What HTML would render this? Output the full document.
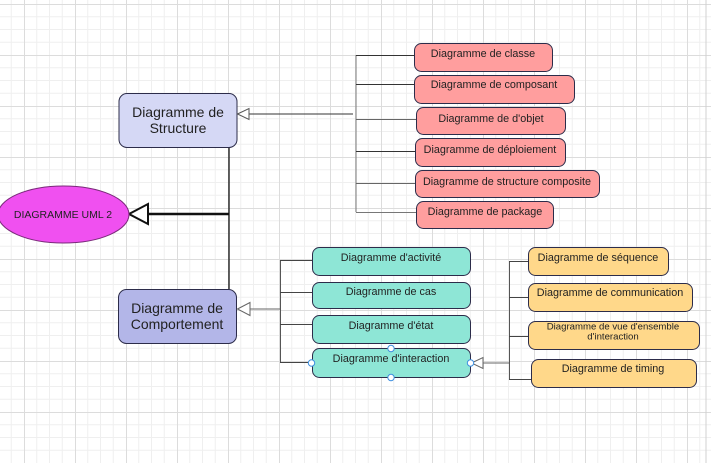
<!DOCTYPE html>
<html><head><meta charset="utf-8"><style>
html,body{margin:0;padding:0;background:#fff;}
svg{display:block;}
text{font-family:"Liberation Sans",Arial,sans-serif;fill:#222;}
</style></head><body>
<svg width="711" height="463" viewBox="0 0 711 463" xmlns="http://www.w3.org/2000/svg">
<defs>
<pattern id="g" x="24" y="4" width="51" height="51" patternUnits="userSpaceOnUse">
<path d="M12.75 0V51M25.5 0V51M38.25 0V51M0 12.75H51M0 25.5H51M0 38.25H51" stroke="#efefef" stroke-width="1" fill="none"/>
<path d="M0.5 0V51M0 0.5H51" stroke="#dcdcdc" stroke-width="1" fill="none"/>
</pattern>
</defs>
<rect width="711" height="463" fill="#fff"/>
<rect width="711" height="463" fill="url(#g)"/>
<line x1="706" y1="0" x2="706" y2="463" stroke="#d0d0d0"/>

<!-- main connectors -->
<line x1="229" y1="147" x2="229" y2="289" stroke="#111" stroke-width="1.3"/>
<line x1="148" y1="214" x2="229" y2="214" stroke="#111" stroke-width="2.5"/>
<polygon points="129,214 148,204 148,224" fill="#fff" stroke="#111" stroke-width="2"/>

<!-- ellipse -->
<ellipse cx="63.5" cy="214.5" rx="65.5" ry="28.5" fill="#f050f0" stroke="#7a2a7a" stroke-width="1"/>
<text x="63" y="218" font-size="10.5" text-anchor="middle">DIAGRAMME UML 2</text>

<!-- structure box -->
<rect x="119" y="93.5" width="118" height="54" rx="8" fill="#d5d8f5" stroke="#2c2c4a"/>
<text x="178" y="117" font-size="14" text-anchor="middle">Diagramme de</text>
<text x="178" y="133" font-size="14" text-anchor="middle">Structure</text>

<!-- structure connectors -->
<line x1="249" y1="114" x2="353" y2="114" stroke="#333"/>
<polygon points="237.5,114 249,108.5 249,119.5" fill="#fff" stroke="#555"/>
<line x1="356" y1="55" x2="356" y2="212" stroke="#777"/>
<g stroke="#333">
<line x1="356" y1="55.5" x2="414" y2="55.5"/>
<line x1="356" y1="84.5" x2="414" y2="84.5"/>
<line x1="356" y1="119.5" x2="416" y2="119.5" stroke="#666"/>
<line x1="356" y1="151.5" x2="415" y2="151.5"/>
<line x1="356" y1="183.5" x2="415" y2="183.5" stroke="#666"/>
<line x1="356" y1="212.5" x2="416" y2="212.5" stroke="#777"/>
</g>

<!-- pink boxes -->
<g fill="#ff9e9e" stroke="#2c2c4a">
<rect x="414.5" y="43.5" width="138" height="28" rx="7"/>
<rect x="414.5" y="75.5" width="160" height="28" rx="7"/>
<rect x="416.5" y="107.5" width="149" height="27" rx="7"/>
<rect x="415.5" y="138.5" width="150" height="28" rx="7"/>
<rect x="415.5" y="170.5" width="184" height="27" rx="7"/>
<rect x="416.5" y="201.5" width="137" height="27" rx="7"/>
</g>
<g font-size="10.8" text-anchor="middle">
<text x="483" y="57">Diagramme de classe</text>
<text x="494" y="88">Diagramme de composant</text>
<text x="491" y="122">Diagramme de d'objet</text>
<text x="490" y="153">Diagramme de déploiement</text>
<text x="507" y="185">Diagramme de structure composite</text>
<text x="485" y="215">Diagramme de package</text>
</g>

<!-- comportement box -->
<rect x="118.5" y="289.5" width="118" height="54" rx="8" fill="#b3b6e8" stroke="#2c2c4a"/>
<text x="177" y="313" font-size="14" text-anchor="middle">Diagramme de</text>
<text x="177" y="329" font-size="14" text-anchor="middle">Comportement</text>

<!-- comportement connectors -->
<line x1="250" y1="309" x2="280" y2="309" stroke="#666"/>
<polygon points="237.5,309 250,302.5 250,315.5" fill="#fff" stroke="#666"/>
<line x1="280.5" y1="260" x2="280.5" y2="362" stroke="#555"/>
<g stroke="#444">
<line x1="280" y1="260.5" x2="312" y2="260.5"/>
<line x1="280" y1="292.5" x2="312" y2="292.5"/>
<line x1="280" y1="324.5" x2="312" y2="324.5"/>
<line x1="280" y1="362.5" x2="312" y2="362.5"/>
</g>

<!-- teal boxes -->
<g fill="#8ee6d6" stroke="#2c2c4a">
<rect x="312.5" y="247.5" width="158" height="28" rx="7"/>
<rect x="312.5" y="282.5" width="158" height="26" rx="7"/>
<rect x="312.5" y="315.5" width="158" height="28" rx="7"/>
<rect x="312.5" y="348.5" width="158" height="29" rx="7"/>
</g>
<g font-size="10.8" text-anchor="middle">
<text x="391" y="261">Diagramme d'activité</text>
<text x="391" y="295">Diagramme de cas</text>
<text x="391" y="329">Diagramme d'état</text>
<text x="391" y="362">Diagramme d'interaction</text>
</g>

<!-- interaction connectors -->
<line x1="483" y1="363" x2="509" y2="363" stroke="#666"/>
<polygon points="471.5,363 483,357.5 483,368.5" fill="#fff" stroke="#666"/>
<line x1="509.5" y1="261" x2="509.5" y2="379" stroke="#555"/>
<g stroke="#444">
<line x1="509" y1="261.5" x2="528" y2="261.5"/>
<line x1="509" y1="297.5" x2="528" y2="297.5"/>
<line x1="509" y1="336.5" x2="528" y2="336.5"/>
<line x1="509" y1="379.5" x2="531" y2="379.5"/>
</g>

<!-- selection handles -->
<g fill="#fff" stroke="#3d8fe0" stroke-width="1">
<circle cx="391" cy="348.5" r="3.2"/>
<circle cx="391" cy="377.5" r="3.2"/>
<circle cx="311.5" cy="363" r="3.2"/>
<circle cx="470.5" cy="363" r="3.2"/>
</g>

<!-- orange boxes -->
<g fill="#ffd88a" stroke="#2c2c4a">
<rect x="528.5" y="247.5" width="140" height="28" rx="7"/>
<rect x="528.5" y="283.5" width="164" height="28" rx="7"/>
<rect x="528.5" y="321.5" width="171" height="28" rx="7"/>
<rect x="531.5" y="359.5" width="165" height="28" rx="7"/>
</g>
<g font-size="10.8" text-anchor="middle">
<text x="598" y="261">Diagramme de séquence</text>
<text x="610" y="296">Diagramme de communication</text>
<text x="613" y="329.5" font-size="9.6">Diagramme de vue d'ensemble</text>
<text x="613" y="339.5" font-size="9.6">d'interaction</text>
<text x="613" y="372">Diagramme de timing</text>
</g>
</svg>
</body></html>
